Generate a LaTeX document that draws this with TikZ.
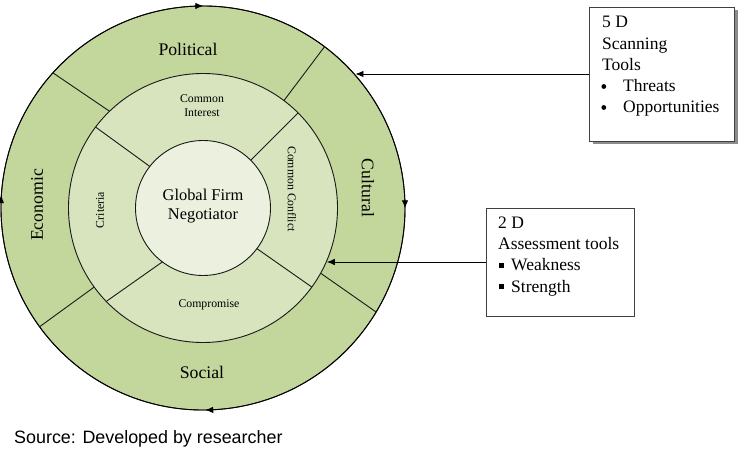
\documentclass[tikz,border=0pt]{standalone}
\usepackage{fontspec}
\setmainfont{Liberation Serif}
\newfontfamily\srcfont{Liberation Sans}
\usetikzlibrary{arrows.meta,decorations.markings,shadows}
\definecolor{outerg}{HTML}{C3D69B}
\definecolor{midg}{HTML}{D7E4BD}
\definecolor{inng}{HTML}{EBF1DE}
\begin{document}
\begin{tikzpicture}[x=1pt,y=1pt,
  ring/.style={circle, draw=black!90, line width=0.9pt, inner sep=0pt, outer sep=0pt},
  divider/.style={draw=black!90, line width=0.9pt},
  lblbig/.style={font=\fontsize{17.7}{20}\selectfont, inner sep=0pt},
  lblsmall/.style={font=\fontsize{11.8}{14}\selectfont, inner sep=0pt, align=center},
  lblmid/.style={font=\fontsize{16.4}{19.5}\selectfont, inner sep=0pt, align=center},
  boxtext/.style={font=\fontsize{17.5}{21}\selectfont, inner sep=0pt, anchor=base west},
  infobox/.style={draw=black!75, line width=0.9pt, fill=white, inner sep=0pt, outer sep=0pt},
  tip/.style={-{Latex[length=8pt,width=6.5pt]}, line width=0.9pt},
  cyclearrow/.style={line width=0.9pt, postaction={decorate}, decoration={markings,
    mark=at position 0.028 with {\arrow{Latex[length=8pt,width=6.5pt]}},
    mark=at position 0.278 with {\arrow{Latex[length=8pt,width=6.5pt]}},
    mark=at position 0.526 with {\arrow{Latex[length=8pt,width=6.5pt]}},
    mark=at position 0.788 with {\arrow{Latex[length=8pt,width=6.5pt]}}}},
]
\useasboundingbox (0,0) rectangle (740,448);
\clip (0,0) rectangle (740,448);
\coordinate (C) at (203,240);
\node[ring, fill=outerg, minimum size=404pt] (outer) at (C) {};
\node[ring, fill=midg, minimum size=269pt] (middle) at (C) {};
\node[ring, fill=inng, minimum size=135pt] (inner) at (C) {};
% cycle arrows on the outer ring
\draw[cyclearrow] (C) ++(100:202) arc[start angle=100, end angle=-260, radius=202];
% dividers
\draw[divider] (middle.134.8) -- (outer.138);
\draw[divider] (middle.53.4) -- (outer.53.3);
\draw[divider] (middle.-29.4) -- (outer.-31.8);
\draw[divider] (middle.216.8) -- (outer.216.9);
\draw[divider] (inner.142.6) -- (middle.143.4);
\draw[divider] (inner.45.6) -- (middle.45);
\draw[divider] (inner.-37.2) -- (middle.-36.4);
\draw[divider] (inner.233.2) -- (middle.224.9);
% labels
\node[lblbig] (political) at (188,399) {Political};
\node[lblbig, rotate=90] (economic) at (37,243) {Economic};
\node[lblbig, rotate=-90] (cultural) at (368,260) {Cultural};
\node[lblbig] (social) at (202,76) {Social};
\node[lblsmall] (cinterest) at (202,342) {Common\\Interest};
\node[lblsmall, rotate=90] (criteria) at (100,238) {Criteria};
\node[lblsmall, rotate=-90] (cconflict) at (292,259) {Common Conflict};
\node[lblsmall] (compromise) at (209,143) {Compromise};
\node[lblmid] (gfn) at (203,242) {Global Firm\\Negotiator};
% box 1
\node[infobox, minimum width=145pt, minimum height=134pt,
  drop shadow={shadow xshift=3.5pt, shadow yshift=-3.5pt, fill=black!45, opacity=1}] (box1) at (661.5,374) {};
\node[boxtext] (b1a) at (602,420) {5 D};
\node[boxtext] (b1b) at (602,398) {Scanning};
\node[boxtext] (b1c) at (602,377) {Tools};
\fill (603.8,361.5) circle[radius=2.4pt];
\node[boxtext] (b1e) at (623,356) {Threats};
\fill (603.8,340.5) circle[radius=2.4pt];
\node[boxtext] (b1g) at (623,335) {Opportunities};
% box 2
\node[infobox, minimum width=148pt, minimum height=108pt] (box2) at (560,186) {};
\node[boxtext] (b2a) at (498,219) {2 D};
\node[boxtext] (b2b) at (498,198) {Assessment tools};
\fill (499.3,180.3) rectangle (503.5,184.5);
\node[boxtext] (b2c) at (511,177) {Weakness};
\fill (499.3,159.3) rectangle (503.5,163.5);
\node[boxtext] (b2d) at (511,156) {Strength};
% connectors
\draw[tip] (box1.west) -- (box1.west -| outer.41.55);
\draw[tip] (box2.west) -- (box2.west -| middle.-23.67);
% source
\node[font=\srcfont\fontsize{17.9}{20}\selectfont, anchor=base west, inner sep=0pt] (source) at (14,4.6) {Source: Developed by researcher};
\end{tikzpicture}
\end{document}
